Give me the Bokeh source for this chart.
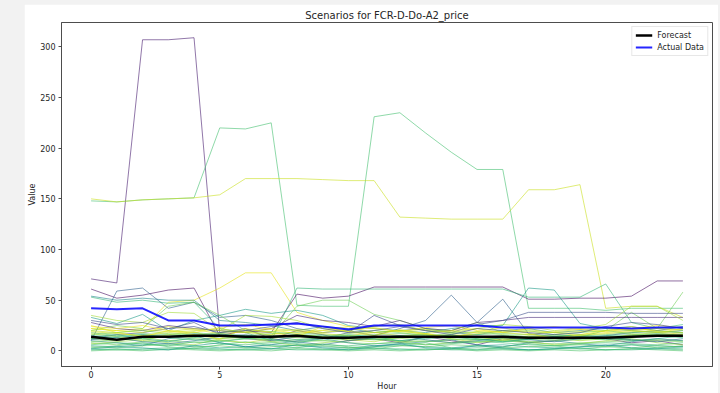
from bokeh.plotting import figure
from bokeh.models import Range1d, Legend, LegendItem
from bokeh.layouts import column
from bokeh.palettes import Viridis256
from bokeh.embed import file_html
from bokeh.resources import INLINE

hours = list(range(24))
x_ticks = [0, 5, 10, 15, 20]
y_ticks = [0, 50, 100, 150, 200, 250, 300]

forecast = [14, 11, 14, 14, 15, 15, 14, 14, 15, 13, 13, 14, 14, 14, 14, 14, 14, 13, 13, 13, 13, 14, 15, 15]
actual = [42, 41, 42, 30, 30, 25, 25, 26, 27, 24, 21, 25, 25, 25, 25, 25, 23, 23, 23, 23, 23, 22, 23, 23]

# distinct scenarios
s01 = [71, 67, 307, 307, 309, 18, 22, 12, 20, 16, 10, 12, 8, 14, 10, 6, 12, 8, 10, 14, 12, 8, 10, 6]
s02 = [148, 147, 149, 150, 151, 220, 219, 225, 45, 44, 44, 231, 235, 215, 196, 179, 179, 42, 42, 42, 40, 42, 42, 42]
s03 = [150, 147, 149, 150, 151, 154, 170, 170, 170, 169, 168, 168, 132, 131, 130, 130, 130, 159, 159, 164, 42, 44, 44, 33]
s04 = [22, 20, 22, 48, 50, 62, 77, 77, 38, 30, 24, 18, 15, 14, 16, 14, 10, 12, 14, 16, 18, 20, 22, 20]
s05 = [61, 52, 55, 60, 62, 15, 20, 18, 56, 52, 54, 63, 63, 63, 63, 63, 63, 51, 51, 52, 52, 54, 69, 69]
s06 = [53, 48, 50, 47, 48, 22, 18, 10, 62, 61, 61, 61, 61, 61, 61, 61, 61, 53, 53, 53, 66, 28, 22, 26]
s07 = [54, 50, 52, 50, 50, 30, 28, 25, 20, 24, 22, 18, 20, 22, 18, 16, 20, 22, 18, 20, 22, 24, 20, 18]
s08 = [10, 59, 62, 42, 48, 33, 35, 30, 22, 18, 20, 15, 22, 30, 55, 28, 51, 17, 14, 12, 15, 18, 20, 24]
s09 = [33, 27, 36, 20, 30, 35, 41, 37, 40, 35, 25, 22, 20, 18, 22, 25, 25, 62, 60, 27, 22, 20, 18, 20]
s10 = [20, 25, 22, 44, 48, 35, 20, 15, 44, 50, 50, 36, 30, 22, 20, 28, 18, 20, 16, 14, 20, 38, 22, 58]
s11 = [28, 22, 20, 25, 22, 20, 18, 22, 35, 30, 28, 24, 30, 22, 20, 28, 30, 33, 33, 33, 33, 33, 33, 33]
s12 = [12, 16, 18, 22, 28, 16, 12, 10, 14, 12, 18, 35, 25, 20, 18, 26, 30, 38, 38, 38, 38, 37, 37, 37]
s13 = [35, 30, 28, 38, 37, 20, 35, 34, 30, 22, 20, 24, 26, 20, 18, 22, 26, 24, 20, 22, 26, 44, 44, 30]
# dense low cluster
s14 = [18, 15, 17, 16, 18, 16, 15, 17, 18, 16, 15, 16, 17, 16, 15, 16, 17, 16, 15, 15, 16, 18, 19, 18]
s15 = [8, 6, 9, 10, 12, 10, 8, 9, 11, 10, 8, 7, 9, 10, 8, 9, 10, 8, 7, 8, 9, 10, 11, 10]
s16 = [2, 1, 2, 3, 2, 1, 2, 2, 3, 2, 1, 2, 2, 1, 2, 3, 2, 1, 2, 2, 1, 2, 3, 2]
s17 = [12, 10, 14, 15, 13, 12, 14, 15, 13, 12, 14, 13, 12, 14, 15, 13, 12, 11, 13, 12, 14, 15, 16, 15]
s18 = [5, 4, 6, 7, 5, 3, 4, 6, 5, 4, 3, 5, 6, 4, 3, 5, 6, 4, 3, 4, 5, 6, 5, 4]
s19 = [20, 18, 21, 19, 22, 20, 18, 19, 21, 20, 19, 18, 20, 21, 19, 18, 20, 19, 18, 19, 20, 21, 22, 21]
s20 = [0, 1, 0, 2, 1, 0, 1, 0, 2, 1, 0, 1, 0, 1, 2, 0, 1, 0, 1, 0, 1, 2, 1, 0]
s21 = [15, 13, 16, 14, 17, 15, 13, 14, 16, 15, 14, 13, 15, 16, 14, 13, 15, 14, 13, 14, 15, 16, 17, 16]
s22 = [10, 8, 5, 12, 15, 8, 4, 6, 10, 12, 8, 5, 7, 9, 11, 6, 4, 8, 10, 7, 5, 9, 12, 10]
s23 = [22, 20, 18, 24, 21, 17, 19, 22, 20, 18, 21, 23, 19, 17, 20, 22, 18, 16, 19, 21, 23, 20, 18, 22]
s24 = [3, 5, 8, 4, 2, 6, 9, 5, 3, 7, 4, 2, 5, 8, 3, 1, 4, 7, 5, 2, 4, 6, 3, 5]
s25 = [13, 11, 12, 14, 16, 14, 12, 13, 15, 14, 12, 11, 13, 14, 12, 11, 13, 12, 11, 12, 13, 15, 16, 14]
s26 = [7, 9, 11, 8, 6, 12, 14, 9, 5, 8, 10, 13, 9, 6, 8, 11, 12, 9, 6, 7, 10, 12, 8, 6]
s27 = [17, 14, 10, 16, 19, 11, 8, 12, 16, 14, 11, 9, 14, 17, 12, 8, 11, 15, 13, 10, 12, 16, 18, 14]
s28 = [1, 2, 1, 1, 3, 2, 1, 2, 1, 1, 2, 3, 1, 2, 1, 1, 2, 1, 2, 3, 1, 1, 2, 1]
s29 = [24, 22, 25, 20, 18, 23, 26, 21, 17, 20, 24, 22, 19, 23, 25, 20, 18, 22, 24, 21, 19, 22, 25, 23]
s30 = [9, 11, 13, 10, 8, 10, 12, 11, 9, 10, 12, 11, 10, 9, 11, 12, 10, 9, 10, 11, 12, 11, 10, 9]
s31 = [14, 16, 12, 9, 13, 17, 15, 11, 8, 12, 16, 14, 10, 13, 16, 12, 9, 11, 14, 16, 13, 10, 12, 15]
s32 = [4, 3, 5, 6, 4, 5, 3, 4, 6, 5, 3, 4, 5, 4, 6, 5, 3, 4, 5, 6, 4, 3, 5, 4]
s33 = [19, 17, 15, 18, 20, 22, 18, 16, 19, 17, 15, 18, 20, 16, 14, 17, 19, 21, 18, 15, 17, 19, 20, 18]
s34 = [11, 13, 9, 7, 10, 14, 16, 12, 9, 6, 10, 13, 15, 11, 8, 10, 13, 11, 9, 12, 14, 11, 9, 12]
s35 = [6, 8, 7, 5, 9, 7, 6, 8, 7, 6, 5, 7, 8, 6, 7, 9, 8, 6, 5, 7, 8, 7, 6, 8]
s36 = [16, 18, 20, 17, 15, 18, 21, 19, 16, 14, 17, 20, 18, 15, 17, 19, 16, 14, 16, 18, 20, 17, 15, 17]
s37 = [2, 4, 3, 1, 5, 8, 4, 2, 6, 3, 1, 4, 7, 3, 2, 5, 3, 1, 2, 4, 6, 3, 2, 4]
s38 = [12, 14, 16, 13, 11, 9, 12, 14, 11, 13, 15, 12, 10, 12, 14, 11, 9, 12, 14, 13, 11, 13, 15, 13]
s39 = [25, 18, 14, 20, 16, 12, 22, 18, 14, 24, 19, 15, 21, 17, 13, 19, 23, 17, 12, 16, 20, 24, 19, 16]
s40 = [30, 26, 28, 22, 24, 18, 20, 24, 28, 22, 18, 20, 24, 20, 16, 22, 20, 18, 16, 18, 24, 28, 26, 22]

scenarios = [s01, s02, s03, s04, s05, s06, s07, s08, s09, s10, s11, s12, s13,
             s14, s15, s16, s17, s18, s19, s20, s21, s22, s23, s24, s25, s26, s27,
             s28, s29, s30, s31, s32, s33, s34, s35, s36, s37, s38, s39, s40]

# viridis palette positions for each scenario (style)
color_pos = [20, 180, 235, 245, 10, 170, 120, 80, 140, 200, 30, 60, 220,
             190, 200, 175, 210, 150, 230, 185, 165, 120, 240, 180, 195, 215,
             225, 170, 250, 200, 160, 190, 235, 100, 180, 205, 140, 170, 245, 60]

TXT = "#262626"
FONT = "DejaVu Sans"

p = figure(width=694, height=389,
           x_range=Range1d(-1.15, 24.15), y_range=Range1d(-15.43, 324.03),
           output_backend="svg", toolbar_location=None,
           title="Scenarios for FCR-D-Do-A2_price",
           min_border_left=37, min_border_right=6, min_border_top=18, min_border_bottom=27)
p.margin = (4, 2, 0, 24)
p.background_fill_color = "white"
p.border_fill_color = "white"
p.outline_line_color = "#4d4d4d"
p.outline_line_width = 1
p.xgrid.visible = False
p.ygrid.visible = False

p.title.text_font = FONT
p.title.text_font_size = "10px"
p.title.text_font_style = "normal"
p.title.text_color = TXT
p.title.align = "center"
p.title.standoff = 4

for ax in (p.xaxis[0], p.yaxis[0]):
    ax.axis_line_color = "#4d4d4d"
    ax.major_tick_line_color = "#4d4d4d"
    ax.minor_tick_line_color = None
    ax.major_tick_in = 0
    ax.major_tick_out = 3
    ax.major_label_text_font = FONT
    ax.major_label_text_font_size = "8px"
    ax.major_label_text_color = TXT
    ax.axis_label_text_font = FONT
    ax.axis_label_text_font_size = "8px"
    ax.axis_label_text_font_style = "normal"
    ax.axis_label_text_color = TXT
    ax.major_label_text_line_height = 1.0
    ax.axis_label_text_line_height = 1.0

p.xaxis.major_label_standoff = 1
p.xaxis.axis_label_standoff = 1
p.yaxis.major_label_standoff = 3
p.yaxis.axis_label_standoff = 0

p.xaxis.ticker = x_ticks
p.yaxis.ticker = y_ticks
p.xaxis.axis_label = "Hour"
p.yaxis.axis_label = "Value"

for vals, cp in zip(scenarios, color_pos):
    p.line(hours, vals, line_color=Viridis256[cp], line_alpha=0.6, line_width=1)

rf = p.line(hours, forecast, line_color="black", line_width=2.5)
ra = p.line(hours, actual, line_color="#0000ff", line_alpha=0.85, line_width=2)

legend = Legend(items=[LegendItem(label="Forecast", renderers=[rf]),
                       LegendItem(label="Actual Data", renderers=[ra])],
                location="top_right")
legend.label_text_font = FONT
legend.label_text_font_size = "8px"
legend.label_text_color = TXT
legend.glyph_width = 17
legend.glyph_height = 10
legend.label_height = 10
legend.spacing = 2
legend.padding = 3
legend.margin = 4
legend.label_standoff = 5
legend.border_line_color = "#d0d0d0"
legend.background_fill_alpha = 0.85
p.add_layout(legend)

layout = column(p, width=720, height=393, styles={"background-color": "#f2f2f2"})

open("out.html", "w").write(file_html(layout, INLINE))
